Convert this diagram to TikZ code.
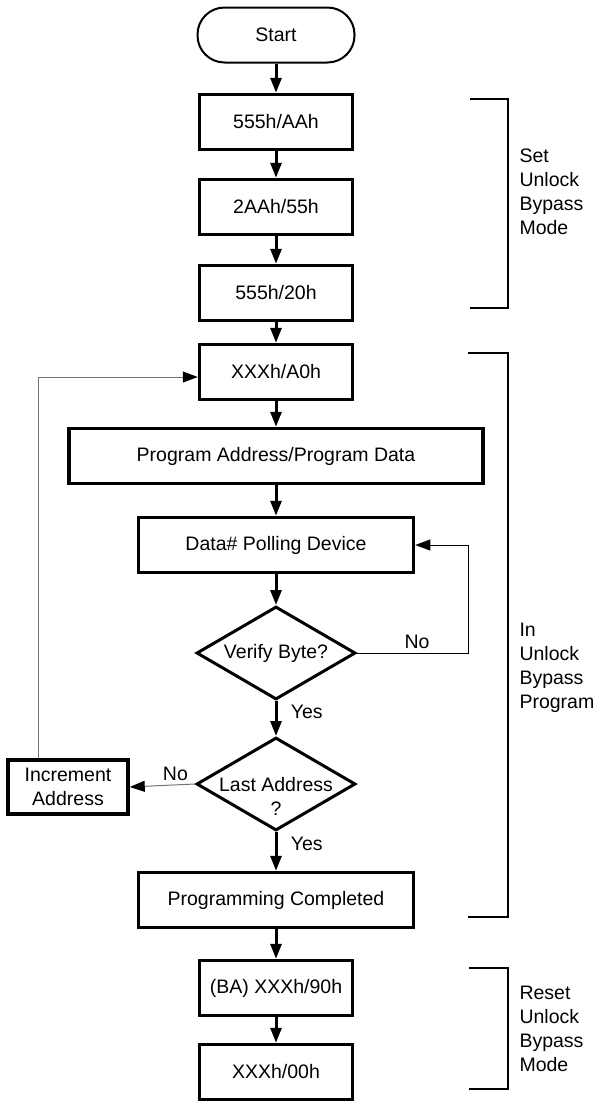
\documentclass[tikz,border=0pt]{standalone}
\usepackage{fontspec}
\setmainfont{Liberation Sans}
\usetikzlibrary{arrows.meta,positioning,shapes.geometric}

\begin{document}
\begin{tikzpicture}[
    x=1pt, y=-1pt,
    font=\fontsize{19.5}{24}\selectfont,
    term/.style={draw,line width=2pt,rounded corners=27pt,minimum width=157pt,minimum height=55pt},
    stepbox/.style={draw,line width=3.5pt,minimum width=153pt,minimum height=55pt,inner sep=2pt},
    decision/.style={draw,diamond,line width=3pt,minimum width=159pt,minimum height=93pt,inner sep=0pt},
    flow/.style={line width=3pt,-{Triangle[length=15pt,width=11pt]}},
    thinflow/.style={line width=1pt,-{Triangle[length=15pt,width=11pt,color=black]}},
    brace/.style={line width=1.2pt},
    note/.style={anchor=west,align=left}
]
    \useasboundingbox (0,0) rectangle (599,1101);

    % Main column of steps
    \node[term]    (start)   at (276,35)   {Start};
    \node[stepbox] (setaa)   at (276,122)  {555h/AAh};
    \node[stepbox] (set55)   at (276,207)  {2AAh/55h};
    \node[stepbox] (set20)   at (276,293)  {555h/20h};
    \node[stepbox] (cmd)     at (276,372)  {XXXh/A0h};
    \node[stepbox,minimum width=414pt] (prog) at (276,456) {Program Address/Program Data};
    \node[stepbox,minimum width=275pt] (poll) at (276,545) {Data\# Polling Device};
    \node[decision] (verify) at (276,653)  {};
    \node at (verify) {Verify Byte?};
    \node[decision] (last)   at (276,784)  {};
    \node[align=center] at ([yshift=-12pt]last.center) {Last Address\\?};
    \node[stepbox,minimum width=120pt,minimum height=54pt,align=center] (inc) at (68,787) {Increment\\Address};
    \node[stepbox,minimum width=275pt] (done) at (276,900) {Programming Completed};
    \node[stepbox] (reset90) at (276,988)  {(BA) XXXh/90h};
    \node[stepbox] (reset00) at (276,1072) {XXXh/00h};

    % Straight flow
    \draw[flow] (start) -- (setaa);
    \draw[flow] (setaa) -- (set55);
    \draw[flow] (set55) -- (set20);
    \draw[flow] (set20) -- (cmd);
    \draw[flow] (cmd) -- (prog);
    \draw[flow] (prog) -- (poll);
    \draw[flow] (poll) -- (verify);
    \draw[flow] (verify) -- node[pos=0.3,right=10pt] {Yes} (last);
    \draw[flow] (last) -- node[pos=0.3,right=10pt] {Yes} (done);
    \draw[flow] (done) -- (reset90);
    \draw[flow] (reset90) -- (reset00);

    % Loops back
    \draw[thinflow] (verify.east) -| node[pos=0.27,above] {No} ([xshift=53pt]poll.east) -- (poll.east);
    \draw[thinflow,draw=black!55] (last.west) -- node[pos=0.3,above] {No} (inc.east);
    \draw[thinflow,draw=black!55] ([xshift=-30pt]inc.north) |- ([yshift=-5pt]cmd.west);

    % Brackets with phase notes
    \draw[brace] (470,99) -| (508,308) -- (470,308);
    \node[note] at (516,192) {Set\\Unlock\\Bypass\\Mode};
    \draw[brace] (468,353) -| (508,917) -- (468,917);
    \node[note] at (516,668) {In\\Unlock\\Bypass\\Program};
    \draw[brace] (469,968) -| (508,1089) -- (469,1089);
    \node[note] at (516,1029) {Reset\\Unlock\\Bypass\\Mode};
\end{tikzpicture}
\end{document}
